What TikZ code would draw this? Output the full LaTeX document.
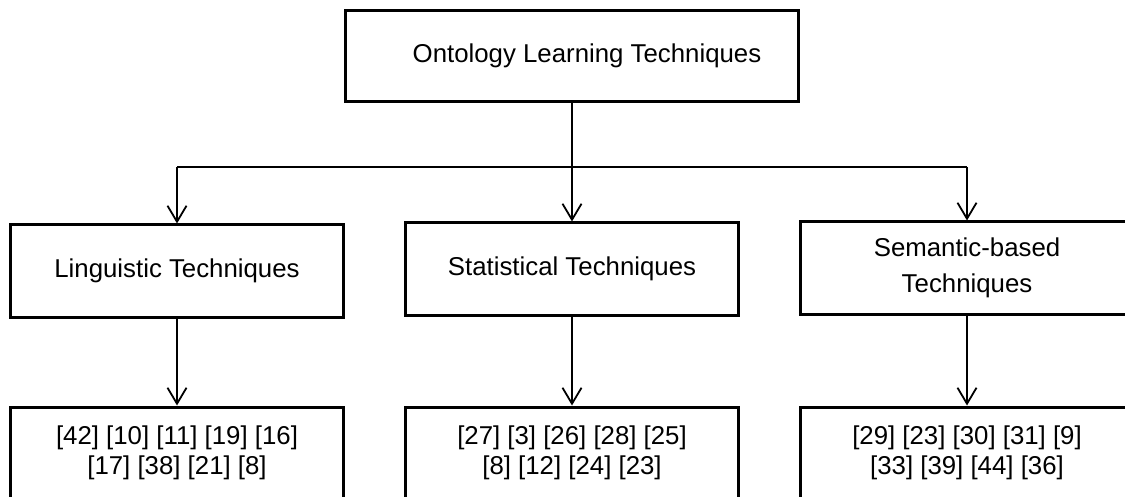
\documentclass[tikz,border=0pt]{standalone}
\usepackage{fontspec}
\setmainfont{Liberation Sans}
\usetikzlibrary{arrows.meta}
\begin{document}
\begin{tikzpicture}[x=1pt,y=-1pt,
  box/.style={draw, line width=3pt, minimum width=333pt, minimum height=92pt,
    inner sep=0pt, align=center, font=\fontsize{25.8}{30}\selectfont},
  wire/.style={line width=1.8pt},
  link/.style={wire, -{Straight Barb[length=16pt,width=19pt,line width=1.8pt]}}]
\useasboundingbox (0,0) rectangle (1125,497);
\clip (0,0) rectangle (1125,497);

% root of the hierarchy (title set a little right of centre)
\node[box, minimum width=453pt, minimum height=91pt] (root) at (572,56)
  {\hspace*{30pt}Ontology Learning Techniques};

% technique families
\node[box] (ling) at (177,271) {Linguistic Techniques};
\node[box] (stat) at (572,269) {Statistical Techniques};
\node[box, font=\fontsize{25.8}{35.5}\selectfont] (sem) at (967,268) {Semantic-based\\Techniques};

% cited works for each family
\node[box] (lingrefs) at (177,453) {[42] [10] [11] [19] [16]\\{}[17] [38] [21] [8]};
\node[box] (statrefs) at (572,453) {[27] [3] [26] [28] [25]\\{}[8] [12] [24] [23]};
\node[box] (semrefs) at (967,453) {[29] [23] [30] [31] [9]\\{}[33] [39] [44] [36]};

% branching connectors
\coordinate (split) at (572,167);
\draw[link] (root) -- (stat);
\draw[wire] (ling.north |- split) -- (sem.north |- split);
\draw[link] (ling.north |- split) -- (ling.north);
\draw[link] (sem.north |- split) -- (sem.north);

\draw[link] (ling) -- (lingrefs);
\draw[link] (stat) -- (statrefs);
\draw[link] (sem) -- (semrefs);
\end{tikzpicture}
\end{document}
